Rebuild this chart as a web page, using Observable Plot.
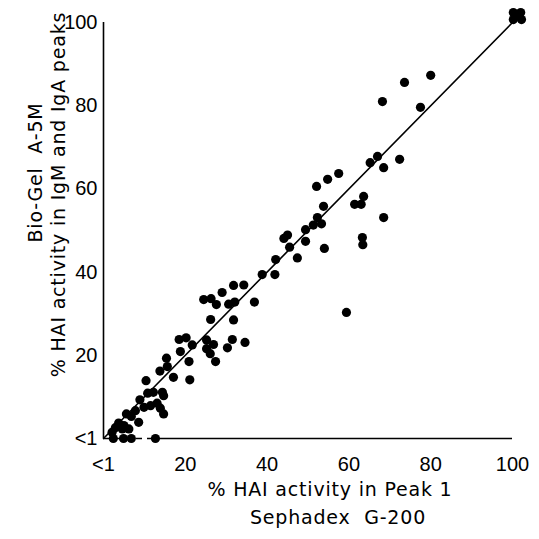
<!DOCTYPE html>
<html><head><meta charset="utf-8">
<script src="https://cdn.jsdelivr.net/npm/d3@7"></script>
<script src="https://cdn.jsdelivr.net/npm/@observablehq/plot@0.6"></script>
<style>
body{margin:0;background:#fff;}
svg g[aria-label="text"] text{letter-spacing:0.8px;}
</style></head><body>
<div id="chart"></div>
<script>
// % HAI activity in Peak 1 (Sephadex G-200)
const sephadex = [68.2,73.6,80.0,77.5,52.1,54.8,57.5,65.2,67.0,68.5,72.4,53.8,52.3,51.3,53.3,49.4,49.4,61.4,63.0,63.6,68.5,63.3,63.4,54.0,
  44.1,45.0,45.5,47.4,42.1,38.8,41.9,31.8,34.3,29.0,24.5,26.3,27.6,30.6,32.1,36.9,26.2,31.8,59.4,
  18.5,20.2,21.7,18.8,25.2,26.9,25.2,26.1,27.4,30.3,31.5,34.6,20.9,15.4,15.6,13.8,17.1,21.1,10.4,
  10.8,12.2,14.4,14.7,8.9,9.9,11.5,13.1,13.9,14.7,5.6,6.8,8.6,3.7,5.0,6.2,4.6,2.9,2.1,7.8,
  2.4,4.9,6.8,12.7,
  100.2,102.0,100.2,102.2,101.2];
// % HAI activity in IgM and IgA peaks (Bio-Gel A-5M)
const bioGel = [81.0,85.6,87.3,79.6,60.6,62.3,63.7,66.3,67.8,65.1,67.1,55.8,53.1,51.3,51.6,50.2,47.4,56.3,56.3,58.2,53.1,48.3,46.6,45.7,
  48.1,48.9,46.0,43.4,43.0,39.4,39.4,36.8,36.9,35.1,33.4,33.6,32.2,32.3,32.8,32.8,28.6,28.5,30.3,
  23.8,24.2,22.5,20.9,23.7,22.6,21.6,20.4,18.5,21.8,23.8,23.1,18.5,19.3,17.3,16.2,14.7,14.1,13.9,
  10.9,11.1,11.1,10.3,9.3,7.5,7.9,8.5,7.3,5.9,5.9,5.3,3.9,3.7,3.1,2.3,2.3,2.6,1.5,6.7,
  0,0,0,0,
  102.4,102.4,100.7,100.7,101.7];
const xTicks = [0,20,40,60,80,100];
const xTickLabels = ["<1","20","40","60","80","100"];
const yTicks = [0,20,40,60,80,100];
const yTickLabels = ["<1","20","40","60","80","100"];
const diagonal = [0,100];
const dashedEnd = 13;
const xTitle1 = "% HAI activity in Peak 1";
const xTitle2 = "Sephadex  G-200";
const yTitle1 = "% HAI activity in IgM and IgA peaks";
const yTitle2 = "Bio-Gel  A-5M";

const points = sephadex.map((x, i) => ({x, y: bioGel[i]}));

const chart = Plot.plot({
  width: 539, height: 539,
  marginLeft: 103, marginRight: 27, marginTop: 22, marginBottom: 101,
  style: {fontFamily: "DejaVu Sans", fontSize: "19px", color: "#000", background: "#fff"},
  x: {domain: [0, 100], label: null},
  y: {domain: [0, 100], label: null},
  marks: [
    Plot.axisX(xTicks, {tickFormat: d => xTickLabels[xTicks.indexOf(d)], tickSize: 0, tickPadding: 18, fontSize: 20, fontFamily: "Liberation Sans", label: null}),
    Plot.axisY(yTicks, {tickFormat: d => yTickLabels[yTicks.indexOf(d)], tickSize: 0, tickPadding: 6, fontSize: 20, fontFamily: "Liberation Sans", label: null}),
    Plot.ruleX([0], {y1: 0, y2: 100, stroke: "#000", strokeWidth: 1.6}),
    Plot.ruleY([0], {x1: dashedEnd, x2: 100, stroke: "#000", strokeWidth: 1.6}),
    Plot.ruleY([0], {x1: 0, x2: dashedEnd, stroke: "#000", strokeWidth: 1.6, strokeDasharray: "6,5"}),
    Plot.line(diagonal, {x: d => d, y: d => d, stroke: "#000", strokeWidth: 1.6}),
    Plot.dot(points, {x: "x", y: "y", r: 4.6, fill: "#000", stroke: "none"}),
    Plot.text([xTitle1], {text: d => d, frameAnchor: "bottom", dx: 22, dy: 57, fontSize: 19}),
    Plot.text([xTitle2], {text: d => d, frameAnchor: "bottom", dx: 30, dy: 85, fontSize: 19}),
    Plot.text([yTitle1], {text: d => d, frameAnchor: "left", textAnchor: "middle", rotate: -90, dx: -45, dy: -36, fontSize: 19}),
    Plot.text([yTitle2], {text: d => d, frameAnchor: "left", textAnchor: "middle", rotate: -90, dx: -68, dy: -58, fontSize: 19})
  ]
});
document.getElementById("chart").appendChild(chart);
</script>
</body></html>
